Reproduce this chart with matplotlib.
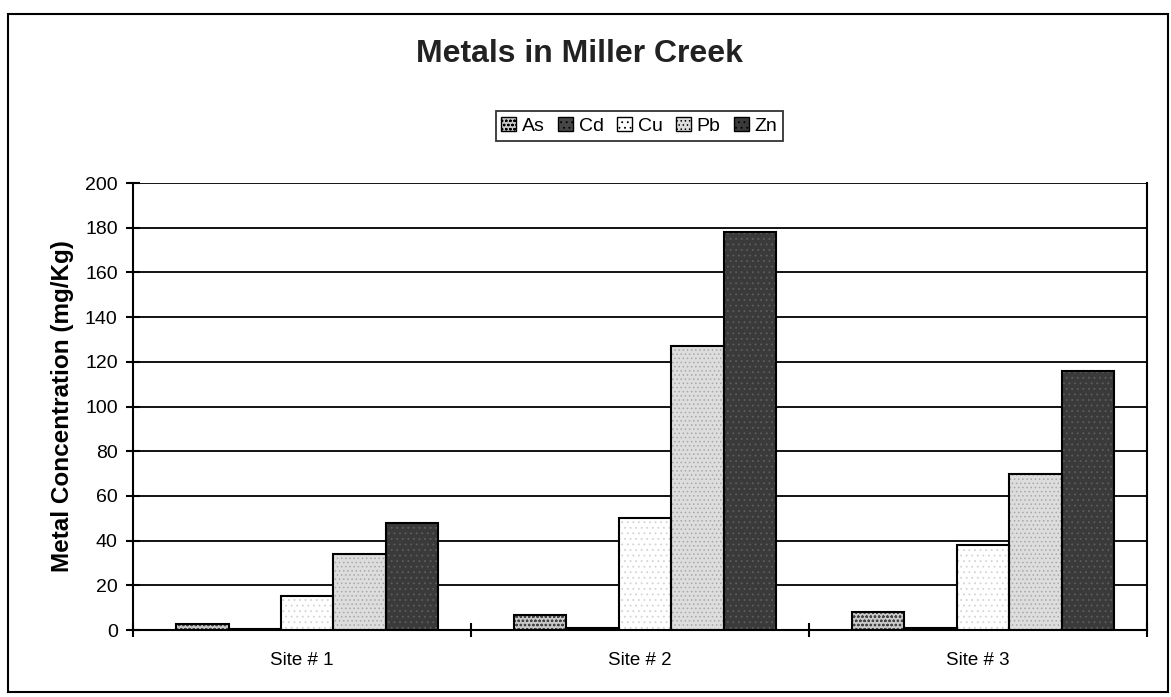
import matplotlib

matplotlib.use('Agg')
import matplotlib.pyplot as plt
from matplotlib.patches import Patch, Rectangle
import numpy as np

plt.rcParams['font.family'] = ['Liberation Sans', 'DejaVu Sans']
plt.rcParams['hatch.linewidth'] = 0.6

sites = ["Site # 1", "Site # 2", "Site # 3"]
metals = ["As", "Cd", "Cu", "Pb", "Zn"]
values = {
    "As": [2.5, 6.5, 8],
    "Cd": [0.5, 1, 1],
    "Cu": [15, 50, 38],
    "Pb": [34, 127, 70],
    "Zn": [48, 178, 116],
}
y_ticks = [0, 20, 40, 60, 80, 100, 120, 140, 160, 180, 200]

# fill colour, hatch pattern, hatch colour
styles = {
    "As": ("#c8c8c8", "oooo", "#444444"),
    "Cd": ("#474747", "...", "#777777"),
    "Cu": ("#ffffff", "...", "#d4d4d4"),
    "Pb": ("#dddddd", "....", "#a8a8a8"),
    "Zn": ("#3a3a3a", "...", "#5e5e5e"),
}

fig = plt.figure(figsize=(11.71, 6.97), dpi=100)
ax = fig.add_axes([0.1136, 0.0961, 0.8659, 0.6413])

x = np.arange(len(sites))
bw = 0.155
handles = []
for i, m in enumerate(metals):
    fc, hatch, hc = styles[m]
    pos = x + (i - 2) * bw + 0.015
    # hatched fill first, then a plain black outline on top
    ax.bar(pos, values[m], bw, color=fc, hatch=hatch, edgecolor=hc, linewidth=0, zorder=3)
    ax.bar(pos, values[m], bw, fill=False, edgecolor="black", linewidth=1.5, zorder=4)
    handles.append(Patch(facecolor=fc, hatch=hatch, edgecolor="black", linewidth=1.0))

ax.set_xlim(-0.5, 2.5)
ax.set_ylim(0, 200)
ax.set_yticks(y_ticks)
ax.set_yticklabels([str(v) for v in y_ticks], fontsize=14)
ax.set_xticks(x)
ax.set_xticklabels(sites, fontsize=13.5)
ax.set_xticks([-0.5, 0.5, 1.5, 2.5], minor=True)
ax.tick_params(axis="x", which="major", length=0, pad=16)
ax.tick_params(axis="x", which="minor", length=10, width=1.5, direction="inout")
ax.tick_params(axis="y", length=10, width=1.5, direction="inout", pad=6)

ax.grid(axis="y", color="black", linewidth=1.3, zorder=1)
ax.set_axisbelow(True)
for s in ax.spines.values():
    s.set_linewidth(1.5)
    s.set_color("black")
ax.spines["top"].set_visible(False)

ax.set_ylabel("Metal Concentration (mg/Kg)", fontsize=17.5, fontweight="bold", labelpad=8)

fig.text(0.495, 0.923, "Metals in Miller Creek", fontsize=23, fontweight="bold",
         ha="center", va="center", color="#222222")

leg = fig.legend(handles, metals, loc="center", bbox_to_anchor=(0.546, 0.819), ncol=5,
                 fontsize=14, frameon=True, fancybox=False, edgecolor="black",
                 handlelength=0.75, handleheight=0.75, handletextpad=0.3, columnspacing=0.7,
                 borderpad=0.3)
leg.get_frame().set_linewidth(1.3)

fig.patches.append(Rectangle((0.0068, 0.0072), 0.9906, 0.9727, transform=fig.transFigure,
                             fill=False, edgecolor="black", linewidth=1.5))

fig.savefig("out.png", dpi=100)
